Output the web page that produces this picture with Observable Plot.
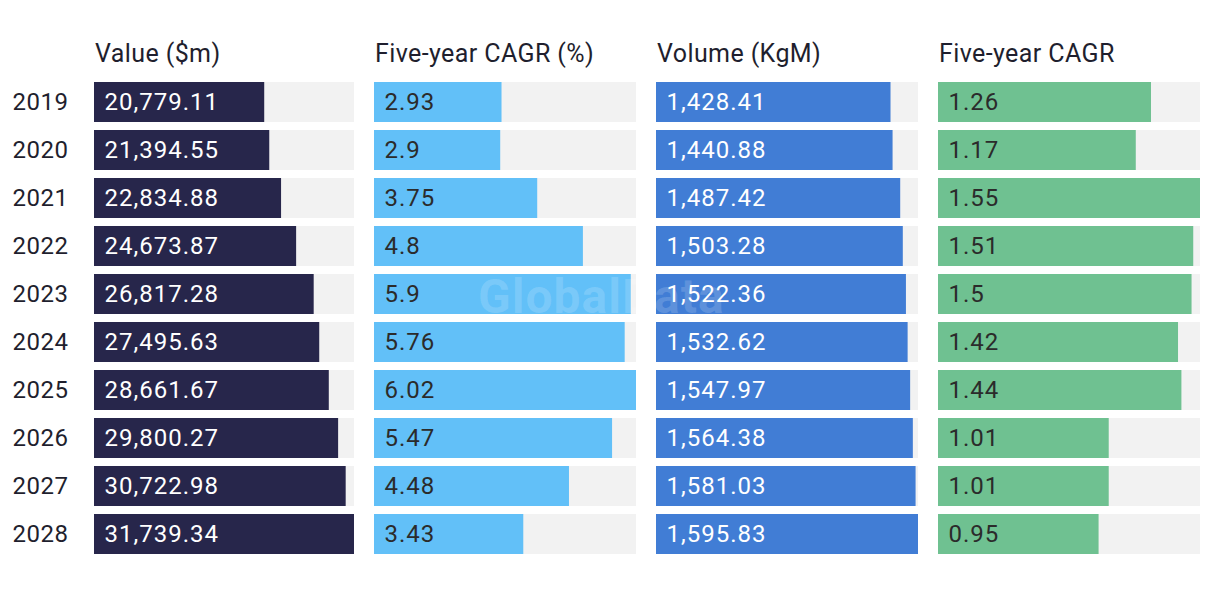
<!DOCTYPE html>
<html>
<head>
<meta charset="utf-8">
<script src="https://cdn.jsdelivr.net/npm/d3@7"></script>
<script src="https://cdn.jsdelivr.net/npm/@observablehq/plot@0.6"></script>
<style>
  html, body { margin: 0; padding: 0; background: #fff; }
  #wrap { position: relative; width: 1220px; height: 596px; font-family: Roboto, "Noto Sans", sans-serif; }
  .panel { position: absolute; top: 0; }
  .hdr { position: absolute; top: 39px; font-size: 25px; letter-spacing: 0.4px; color: #1f1f2e; white-space: nowrap; }
  .wm { position: absolute; left: 478px; top: 268px; font-size: 48px; letter-spacing: 1px; font-weight: 700; color: rgba(255,255,255,0.16); pointer-events: none; }
</style>
</head>
<body>
<div id="wrap"></div>
<script>
const years = ["2019","2020","2021","2022","2023","2024","2025","2026","2027","2028"];
const valueM = [20779.11, 21394.55, 22834.88, 24673.87, 26817.28, 27495.63, 28661.67, 29800.27, 30722.98, 31739.34];
const valueCagr = [2.93, 2.9, 3.75, 4.8, 5.9, 5.76, 6.02, 5.47, 4.48, 3.43];
const volume = [1428.41, 1440.88, 1487.42, 1503.28, 1522.36, 1532.62, 1547.97, 1564.38, 1581.03, 1595.83];
const volumeCagr = [1.26, 1.17, 1.55, 1.51, 1.5, 1.42, 1.44, 1.01, 1.01, 0.95];
const headers = ["Value ($m)", "Five-year CAGR (%)", "Volume (KgM)", "Five-year CAGR"];

const panels = [
  {values: valueM, title: headers[0], fill: "#27264b", text: "#ffffff", left: 0, width: 354, marginLeft: 94, yLabels: true},
  {values: valueCagr, title: headers[1], fill: "#62c0f8", text: "#2b2b2b", left: 374, width: 262, marginLeft: 0},
  {values: volume, title: headers[2], fill: "#417dd5", text: "#ffffff", left: 656, width: 262, marginLeft: 0},
  {values: volumeCagr, title: headers[3], fill: "#6fc191", text: "#2b2b2b", left: 938, width: 262, marginLeft: 0}
];

const wrap = document.getElementById("wrap");
const fmt = d3.format(",");

for (const p of panels) {
  const data = years.map((y, i) => ({year: y, v: p.values[i]}));
  const max = d3.max(p.values);
  const marks = [
    Plot.barX(data, {y: "year", x1: 0, x2: max, fill: "#f2f2f2", insetTop: 4, insetBottom: 4}),
    Plot.barX(data, {y: "year", x1: 0, x2: "v", fill: p.fill, insetTop: 4, insetBottom: 4}),
    Plot.text(data, {y: "year", frameAnchor: "left", dx: 10, textAnchor: "start", text: d => fmt(d.v), fill: p.text, fontSize: 24, style: "letter-spacing:1px"})
  ];
  if (p.yLabels) {
    marks.push(Plot.text(data, {y: "year", frameAnchor: "left", dx: -82, textAnchor: "start", text: "year", fill: "#1f1f2e", fontSize: 24}));
  }
  const chart = Plot.plot({
    width: p.width,
    height: 596,
    marginLeft: p.marginLeft,
    marginRight: 0,
    marginTop: 78,
    marginBottom: 38,
    style: {fontFamily: "Roboto, 'Noto Sans', sans-serif", background: "transparent", overflow: "visible"},
    x: {domain: [0, max], axis: null},
    y: {domain: years, axis: null, padding: 0},
    marks
  });
  chart.querySelectorAll("text").forEach(t => { t.style.letterSpacing = t.closest("g") && t.closest("g").getAttribute("fill") === "#1f1f2e" ? "0.5px" : "1px"; });
  const div = document.createElement("div");
  div.className = "panel";
  div.style.left = p.left + "px";
  div.appendChild(chart);
  wrap.appendChild(div);
  const h = document.createElement("div");
  h.className = "hdr";
  h.style.left = (p.left + p.marginLeft + 1) + "px";
  h.textContent = p.title;
  wrap.appendChild(h);
}
const wm = document.createElement("div");
wm.className = "wm";
wm.textContent = "GlobalData";
wrap.appendChild(wm);
</script>
</body>
</html>
